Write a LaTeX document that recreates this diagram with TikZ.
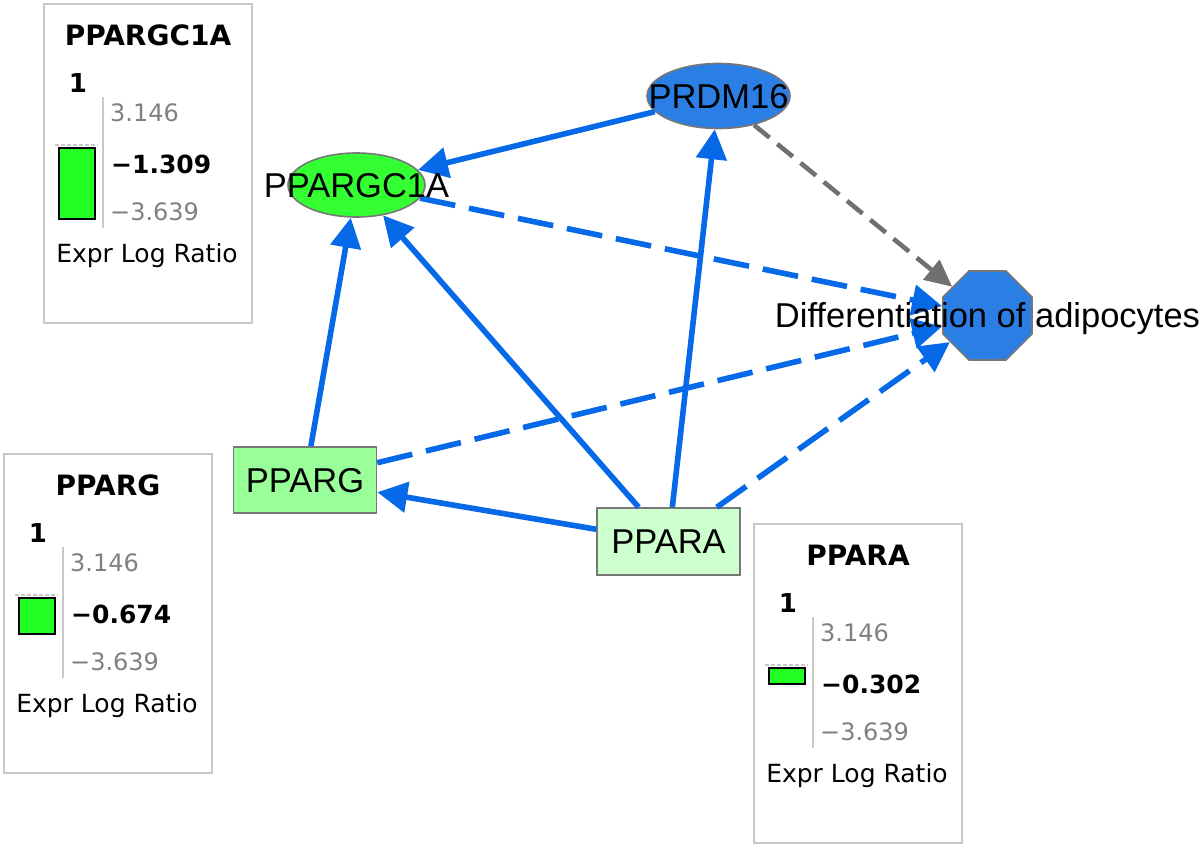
\documentclass[tikz,border=0pt]{standalone}
\usepackage{fontspec}
\setmainfont{Liberation Sans}
\newfontfamily\legfont{DejaVu Sans}
\usetikzlibrary{shapes.geometric,arrows.meta}
\definecolor{edgeblue}{RGB}{5,105,232}
\definecolor{nodeblue}{RGB}{42,126,228}
\definecolor{nodegreen}{RGB}{51,255,51}
\definecolor{ppargfill}{RGB}{153,255,153}
\definecolor{pparafill}{RGB}{206,255,206}
\definecolor{nodeborder}{RGB}{119,119,119}
\definecolor{edgegray}{RGB}{112,112,112}
\definecolor{legborder}{RGB}{200,200,200}
\definecolor{legnum}{RGB}{128,128,128}
\definecolor{bargreen}{RGB}{34,255,34}
\tikzset{
  genenode/.style={draw=nodeborder, line width=1.6pt, inner sep=0pt},
  ellnode/.style={genenode, ellipse},
  boxnode/.style={genenode, rectangle, minimum width=143pt, minimum height=66pt},
  octnode/.style={genenode, regular polygon, regular polygon sides=8, minimum size=96.4pt, fill=nodeblue},
  lbl/.style={inner sep=0pt, text depth=0pt, text height=24.7pt, font=\fontsize{34.5}{40}\selectfont},
  act/.style={draw=edgeblue, line width=5.6pt, -{Triangle[length=30pt,width=30pt]}},
  pred/.style={act, dash pattern=on 36pt off 14pt},
  grayedge/.style={draw=edgegray, line width=4.6pt, dash pattern=on 20pt off 10pt, -{Triangle[length=27pt,width=25pt]}},
  legframe/.style={draw=legborder, line width=2pt, minimum width=208pt, minimum height=319pt, inner sep=0pt},
  legtitle/.style={inner sep=0pt, text depth=0pt, font=\fontsize{28}{32}\legfont\bfseries},
  legbold/.style={inner sep=0pt, text depth=0pt, font=\fontsize{25}{30}\legfont\bfseries},
  leggray/.style={inner sep=0pt, text depth=0pt, text=legnum, font=\fontsize{24}{30}\legfont},
  legtext/.style={inner sep=0pt, text depth=0pt, font=\fontsize{25}{30}\legfont},
  legaxis/.style={draw=legborder, line width=2pt},
  legzero/.style={draw=legborder, line width=1.5pt, dash pattern=on 4pt off 2pt},
  legbar/.style={draw=black, line width=1.5pt, fill=bargreen, minimum width=36pt, inner sep=0pt}
}
\newcommand\legbox[6]{%
\begin{scope}[shift={(#2,#3)}]
  \node[legframe] (#1frame) at (104,159.5) {};
  \node[legtitle] (#1title) at (104,31) {#4};
  \node[legbold, font=\fontsize{26}{30}\legfont\bfseries] (#1one) at (34,79) {1};
  \coordinate (#1axtop) at (59,93);
  \coordinate (#1axbot) at (59,224);
  \draw[legaxis] (#1axtop) -- (#1axbot);
  \coordinate (#1zl) at (11,141);
  \coordinate (#1zr) at (54,141);
  \draw[legzero] (#1zl) -- (#1zr);
  \node[legbar, anchor=north west, minimum height=#6pt] (#1bar) at (14,143) {};
  \node[leggray, anchor=west] (#1max) at (66,109) {3.146};
  \node[legbold, anchor=west] (#1val) at (67,160) {−#5};
  \node[leggray, anchor=west] (#1min) at (66,208) {−3.639};
  \node[legtext] (#1lab) at (103,249) {Expr Log Ratio};
\end{scope}}
\begin{document}
\begin{tikzpicture}[x=1pt,y=-1pt]
\useasboundingbox (0,0) rectangle (1203,846);
% legends
\legbox{la}{44}{4}{PPARGC1A}{1.309}{71}
\legbox{lb}{4}{454}{PPARG}{0.674}{36}
\legbox{lc}{754}{524}{PPARA}{0.302}{16}
% nodes
\node[ellnode, fill=nodegreen, minimum width=137pt, minimum height=64pt] (pgc) at (356.5,185) {};
\node[ellnode, fill=nodeblue, minimum width=143pt, minimum height=65pt] (prdm) at (718.5,96) {};
\node[octnode] (diff) at (987.5,315.5) {};
\node[boxnode, fill=ppargfill] (pparg) at (305,480) {};
\node[boxnode, fill=pparafill, minimum height=67pt] (ppara) at (668.5,541.5) {};
% edges
\draw[act] (prdm) -- (pgc);
\draw[act] (ppara) -- (prdm);
\draw[act] (ppara) -- (pgc);
\draw[act] (pparg) -- (pgc);
\draw[act] (ppara) -- (pparg);
\draw[pred] (pgc) -- (diff);
\draw[pred] (pparg) -- (diff);
\draw[pred] (ppara) -- (diff);
\draw[grayedge] (prdm) -- (diff);
% labels
\node[lbl] (pgctext) at (pgc.center) {PPARGC1A};
\node[lbl] (prdmtext) at (prdm.center) {PRDM16};
\node[lbl] (difftext) at (diff.center) {Differentiation of adipocytes};
\node[lbl] (ppargtext) at (pparg.center) {PPARG};
\node[lbl] (pparatext) at (ppara.center) {PPARA};
\end{tikzpicture}
\end{document}
